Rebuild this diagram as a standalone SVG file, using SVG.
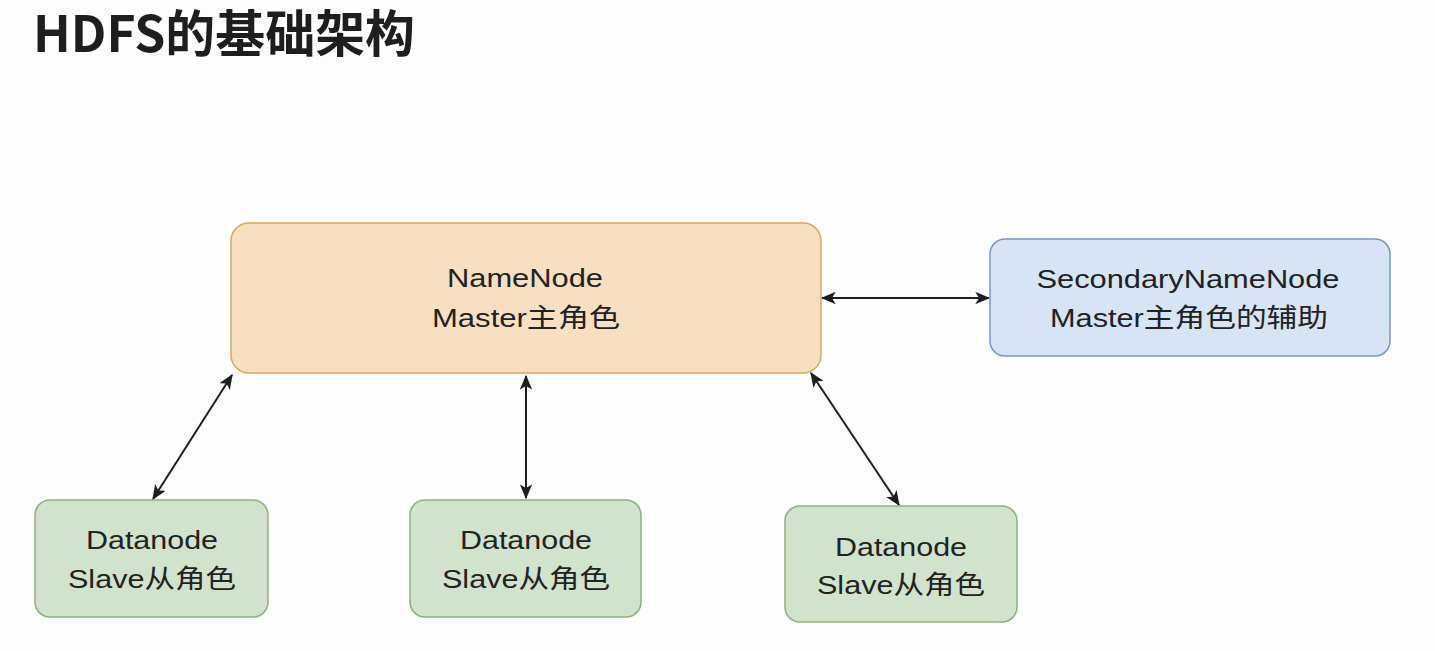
<svg xmlns="http://www.w3.org/2000/svg" width="1435" height="651" viewBox="0 0 1435 651">
<style>
.title{font-family:"Noto Sans CJK SC","Noto Sans",sans-serif;font-weight:bold;font-size:50px;fill:#1e1e1e}
.lbl{font-family:"Liberation Sans","Noto Sans CJK SC",sans-serif;font-size:26px;fill:#222}
.orange{fill:#f8dfc2;stroke:#d3aa58;stroke-width:1.5}
.blue{fill:#d6e4f6;stroke:#7896c2;stroke-width:1.5}
.green{fill:#d2e3cd;stroke:#8fae7f;stroke-width:1.5}
.conn{stroke:#1e1e1e;stroke-width:2;fill:none;marker-start:url(#ah);marker-end:url(#ah)}
</style>
<defs>
<marker id="ah" viewBox="0 0 12 10" refX="11" refY="5" markerWidth="15" markerHeight="12.5" markerUnits="userSpaceOnUse" orient="auto-start-reverse">
<path d="M0,0 L12,5 L0,10 L3,5 z" fill="#1e1e1e"/>
</marker>
</defs>
<rect width="1435" height="651" fill="#fdfdfd"/>
<text class="title" x="33" y="52" textLength="382" lengthAdjust="spacingAndGlyphs">HDFS的基础架构</text>

<g id="connectors">
<line class="conn" x1="232" y1="375" x2="153" y2="499"/>
<line class="conn" x1="526" y1="376" x2="526" y2="498"/>
<line class="conn" x1="811" y1="373" x2="899" y2="505"/>
<line class="conn" x1="822" y1="298" x2="989" y2="298"/>
</g>

<g id="namenode">
<rect class="orange" x="231" y="223" width="590" height="150" rx="18"/>
<text class="lbl" x="525" y="287" text-anchor="middle" textLength="156" lengthAdjust="spacingAndGlyphs">NameNode</text>
<text class="lbl" x="526" y="327" text-anchor="middle" textLength="188" lengthAdjust="spacingAndGlyphs">Master主角色</text>
</g>

<g id="secondary">
<rect class="blue" x="990" y="239" width="400" height="117" rx="15"/>
<text class="lbl" x="1188" y="288" text-anchor="middle" textLength="303" lengthAdjust="spacingAndGlyphs">SecondaryNameNode</text>
<text class="lbl" x="1189" y="327" text-anchor="middle" textLength="278" lengthAdjust="spacingAndGlyphs">Master主角色的辅助</text>
</g>

<g id="datanode1">
<rect class="green" x="35" y="500" width="233" height="117" rx="15"/>
<text class="lbl" x="152" y="549" text-anchor="middle" textLength="132" lengthAdjust="spacingAndGlyphs">Datanode</text>
<text class="lbl" x="152" y="588" text-anchor="middle" textLength="168" lengthAdjust="spacingAndGlyphs">Slave从角色</text>
</g>

<g id="datanode2">
<rect class="green" x="410" y="500" width="231" height="117" rx="15"/>
<text class="lbl" x="526" y="549" text-anchor="middle" textLength="132" lengthAdjust="spacingAndGlyphs">Datanode</text>
<text class="lbl" x="526" y="588" text-anchor="middle" textLength="168" lengthAdjust="spacingAndGlyphs">Slave从角色</text>
</g>

<g id="datanode3">
<rect class="green" x="785" y="506" width="232" height="116" rx="15"/>
<text class="lbl" x="901" y="556" text-anchor="middle" textLength="132" lengthAdjust="spacingAndGlyphs">Datanode</text>
<text class="lbl" x="901" y="594" text-anchor="middle" textLength="168" lengthAdjust="spacingAndGlyphs">Slave从角色</text>
</g>
</svg>
